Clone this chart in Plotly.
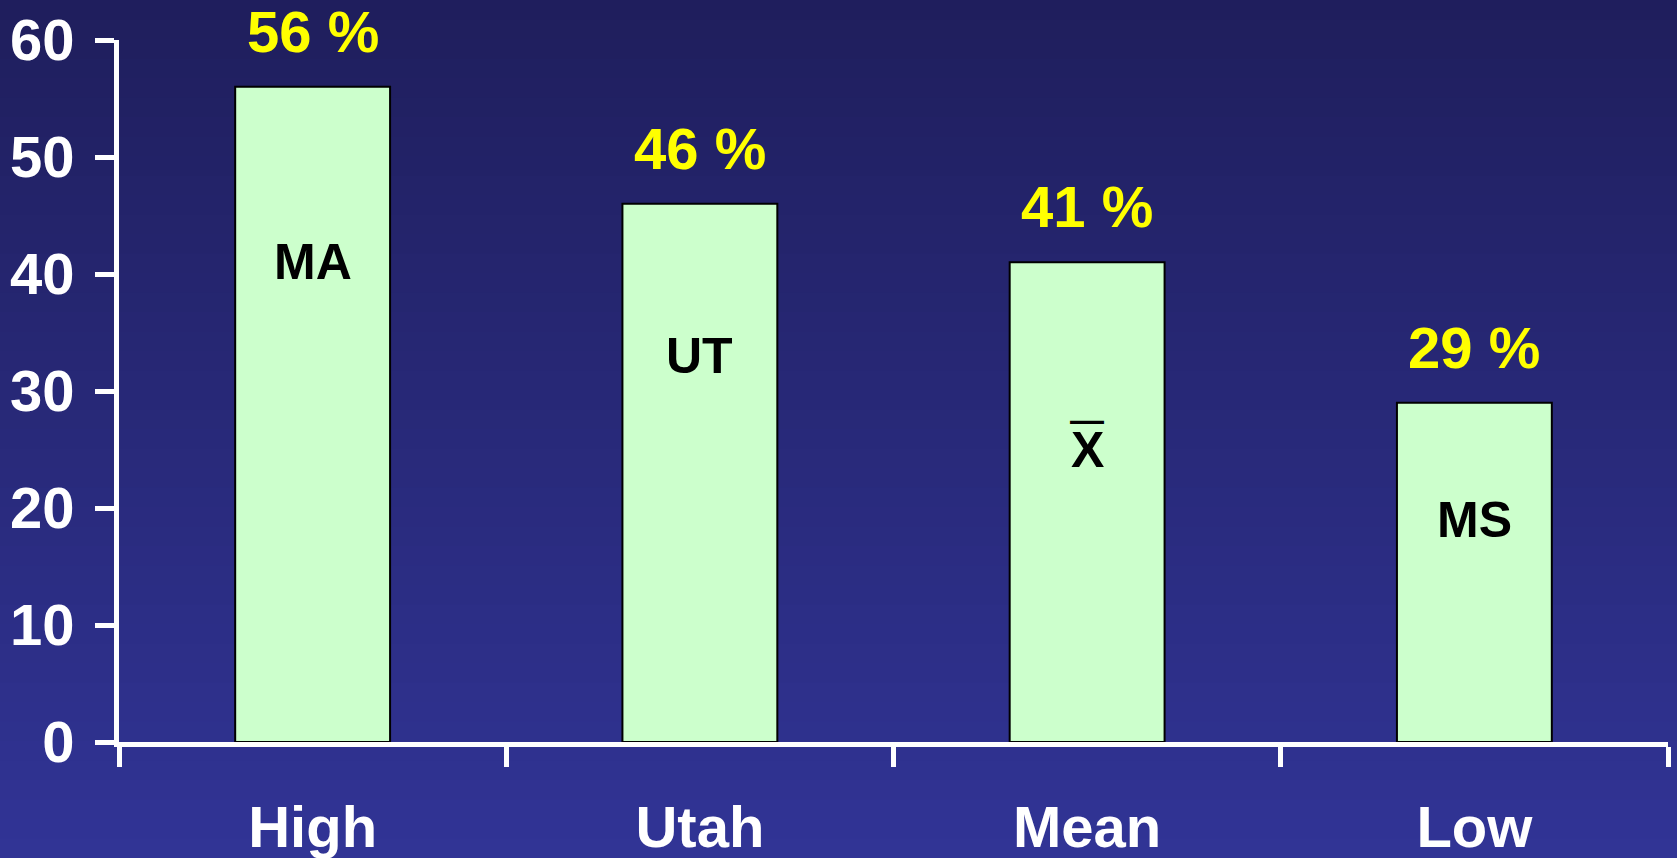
import plotly.graph_objects as go

# ---- data ----
categories = ["High", "Utah", "Mean", "Low"]
values = [56, 46, 41, 29]
inner_labels = ["MA", "UT", "X", "MS"]
inner_label_bar = [False, False, True, False]   # mean symbol gets an overbar
inner_label_y = [41, 33, 25, 19]
y_ticks = [0, 10, 20, 30, 40, 50, 60]

W, H = 1677, 858
ML, MR, MT, MB = 119, 9, 40, 116

FONT = "Liberation Sans, Arial, Helvetica, sans-serif"

fig = go.Figure()
fig.add_trace(go.Bar(
    x=categories, y=values, width=0.4,
    marker=dict(color="#ccffcc", line=dict(color="black", width=2)),
    hoverinfo="skip",
))

# background vertical gradient (styling only)
top = (31, 30, 92)
bot = (49, 52, 150)
n = 44
plot_h = H - MT - MB
shapes = []
for i in range(n):
    p0 = i * H / n
    p1 = (i + 1) * H / n + 1
    if i == 0:
        p0 = -200
    if i == n - 1:
        p1 = H + 200
    t = (i + 0.5) / n
    c = tuple(round(top[k] + (bot[k] - top[k]) * t) for k in range(3))
    shapes.append(dict(
        type="rect", xref="paper", yref="paper",
        x0=-0.3, x1=1.3,
        y0=(H - MB - p1) / plot_h, y1=(H - MB - p0) / plot_h,
        fillcolor="rgb(%d,%d,%d)" % c, line=dict(width=0), layer="below",
    ))

annotations = []
for c, v in zip(categories, values):
    annotations.append(dict(
        x=c, y=v, xref="x", yref="y", text=f"{v} %", showarrow=False,
        yanchor="bottom", yshift=21,
        font=dict(family=FONT, size=58, color="#ffff00", weight="bold"),
    ))
for c, lab, ly, bar in zip(categories, inner_labels, inner_label_y, inner_label_bar):
    annotations.append(dict(
        x=c, y=ly, xref="x", yref="y", text=lab, showarrow=False,
        yanchor="middle",
        font=dict(family=FONT, size=50, color="black", weight="bold"),
    ))
    if bar:
        annotations.append(dict(
            x=c, y=ly, xref="x", yref="y", text="\u2014", showarrow=False,
            yanchor="middle", yshift=31,
            font=dict(family=FONT, size=34, color="black", weight="bold"),
        ))

fig.update_layout(
    autosize=True,
    margin=dict(l=ML, r=MR, t=MT, b=MB, pad=0),
    paper_bgcolor="#282878",
    plot_bgcolor="rgba(0,0,0,0)",
    shapes=shapes,
    annotations=annotations,
    showlegend=False,
    xaxis=dict(
        type="category", categoryorder="array", categoryarray=categories,
        tickson="boundaries", ticks="outside", ticklen=20, tickwidth=5,
        tickcolor="white", showline=True, linecolor="white", linewidth=5,
        showgrid=False, zeroline=False, automargin=False,
        tickfont=dict(family=FONT, size=58, color="white", weight="bold"),
        ticklabelstandoff=30,
    ),
    yaxis=dict(
        range=[0, 60], tickvals=y_ticks, ticks="outside", ticklen=19,
        tickwidth=5, tickcolor="white", showline=True, linecolor="white",
        linewidth=5, showgrid=False, zeroline=False, automargin=False,
        tickfont=dict(family=FONT, size=58, color="white", weight="bold"),
        ticklabelstandoff=9,
    ),
)

css_js = (
    "document.documentElement.style.margin='0';"
    "document.documentElement.style.padding='0';"
    "document.documentElement.style.overflow='hidden';"
    "document.documentElement.style.background='rgb(49,52,150)';"
    "document.body.style.margin='0';"
    "document.body.style.padding='0';"
    "document.body.style.overflow='hidden';"
    "window.dispatchEvent(new Event('resize'));"
)

fig.write_html(
    "out.html",
    config={"displayModeBar": False, "responsive": True},
    default_width="100vw",
    default_height="100vh",
    post_script=css_js,
)
